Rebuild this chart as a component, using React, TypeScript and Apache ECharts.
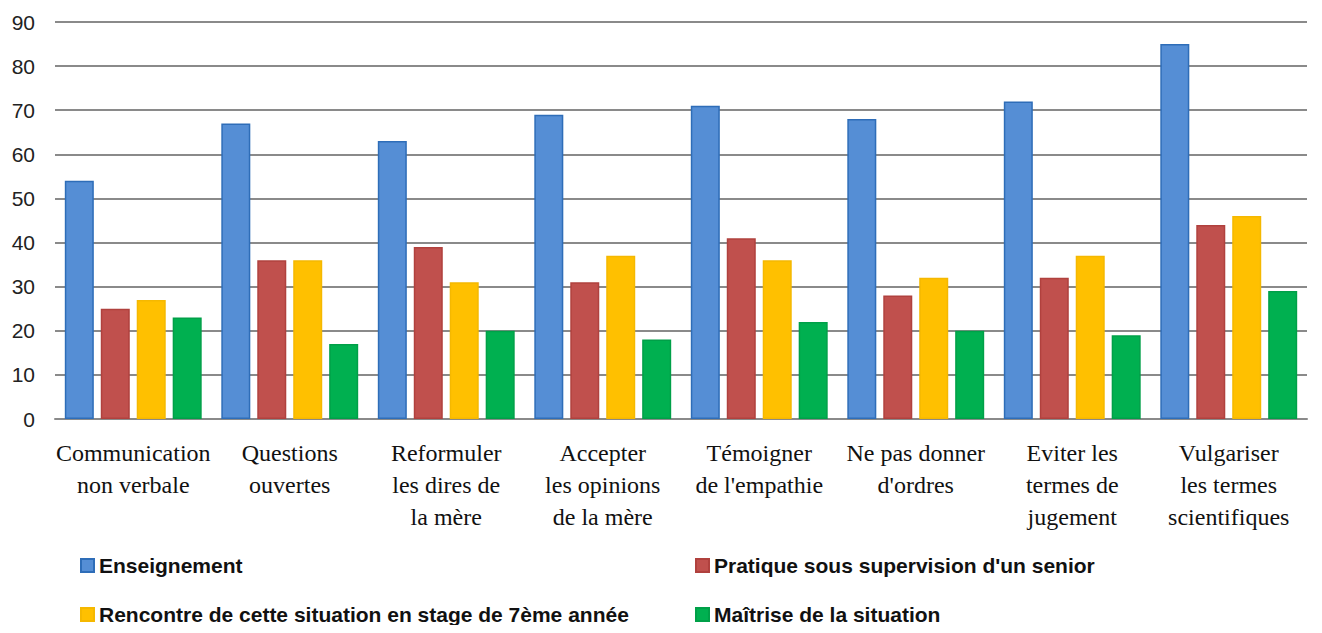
import React, { useEffect, useRef } from "react";
import * as echarts from "echarts";

const categories = [
  "Communication\nnon verbale",
  "Questions\nouvertes",
  "Reformuler\nles dires de\nla mère",
  "Accepter\nles opinions\nde la mère",
  "Témoigner\nde l'empathie",
  "Ne pas donner\nd'ordres",
  "Eviter les\ntermes de\njugement",
  "Vulgariser\nles termes\nscientifiques",
];

const seriesNames = [
  "Enseignement",
  "Pratique sous supervision d'un senior",
  "Rencontre de cette situation en stage de 7ème année",
  "Maîtrise de la situation",
];

const enseignement = [54, 67, 63, 69, 71, 68, 72, 85];
const pratique = [25, 36, 39, 31, 41, 28, 32, 44];
const rencontre = [27, 36, 31, 37, 36, 32, 37, 46];
const maitrise = [23, 17, 20, 18, 22, 20, 19, 29];

const yTicks = { min: 0, max: 90, interval: 10 };

const fills = ["#558ED5", "#C0504D", "#FFC000", "#00B050"];
const borders = ["#2E6DB8", "#B0413E", "#F5B800", "#00A048"];

export default function App() {
  const ref = useRef<HTMLDivElement>(null);
  useEffect(() => {
    if (!ref.current) return;
    const chart = echarts.init(ref.current, null, { renderer: "svg" });
    const values = [enseignement, pratique, rencontre, maitrise];
    const legendText = {
      fontFamily: "Liberation Sans",
      fontWeight: "bold" as const,
      fontSize: 21,
      color: "#111",
    };
    const legendPos = [
      { left: 72, top: 547 },
      { left: 687, top: 547 },
      { left: 72, top: 596 },
      { left: 687, top: 596 },
    ];
    chart.setOption({
      animation: false,
      backgroundColor: "#fff",
      grid: { left: 47, right: 7, top: 14, bottom: 206, containLabel: false },
      legend: seriesNames.map((name, i) => ({
        data: [name],
        left: legendPos[i].left,
        top: legendPos[i].top,
        padding: 0,
        itemWidth: 13,
        itemHeight: 13,
        itemGap: 7,
        icon: "rect",
        textStyle: legendText,
      })),
      xAxis: {
        type: "category",
        data: categories,
        axisLine: { show: true, lineStyle: { color: "#8a8a8a", width: 2 } },
        axisTick: { show: false },
        axisLabel: {
          interval: 0,
          fontFamily: "Liberation Serif",
          fontSize: 24,
          lineHeight: 32,
          color: "#111",
          margin: 18,
        },
      },
      yAxis: {
        type: "value",
        min: yTicks.min,
        max: yTicks.max,
        interval: yTicks.interval,
        axisLine: { show: false },
        axisTick: { show: false },
        splitLine: { lineStyle: { color: "#8a8a8a", width: 2 } },
        axisLabel: {
          fontFamily: "Liberation Sans",
          fontSize: 21,
          color: "#222",
          margin: 20,
        },
      },
      series: seriesNames.map((name, i) => ({
        name,
        type: "bar",
        data: values[i],
        barWidth: 29,
        barGap: "24%",
        itemStyle: {
          color: fills[i],
          borderColor: borders[i],
          borderWidth: 1.5,
        },
      })),
    });
    return () => chart.dispose();
  }, []);
  return <div ref={ref} style={{ width: 1306, height: 617 }} />;
}
